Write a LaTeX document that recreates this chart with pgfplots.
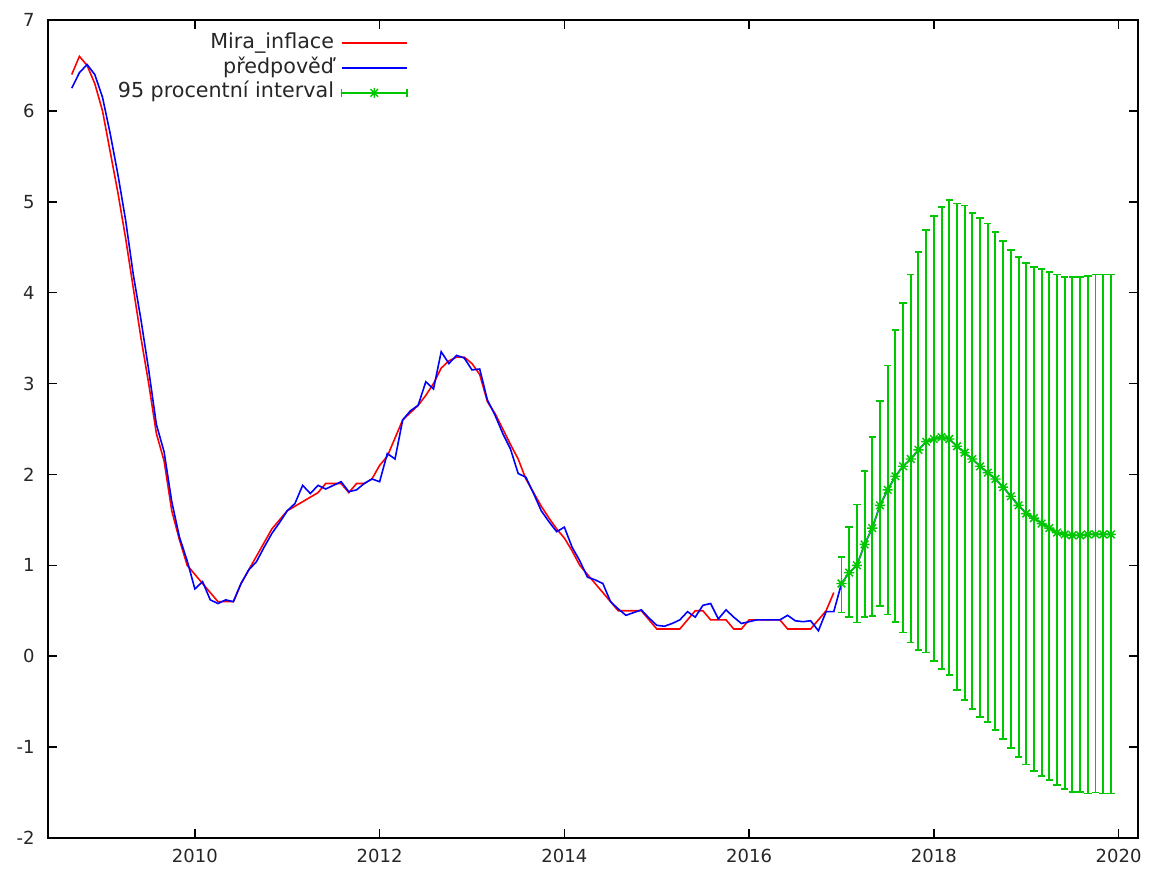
\documentclass[border=0pt]{standalone}
\usepackage{fontspec}
\setmainfont{DejaVu Sans}
\usepackage{pgfplots}
\usepackage{pgfplotstable}
\pgfplotsset{compat=1.18}
\definecolor{gred}{RGB}{255,0,0}
\definecolor{gblue}{RGB}{0,0,255}
\definecolor{ggreen}{RGB}{0,200,0}
\pgfdeclareplotmark{gstar}{%
  \pgfpathmoveto{\pgfqpoint{-\pgfplotmarksize}{0pt}}\pgfpathlineto{\pgfqpoint{\pgfplotmarksize}{0pt}}%
  \pgfpathmoveto{\pgfqpoint{0pt}{-\pgfplotmarksize}}\pgfpathlineto{\pgfqpoint{0pt}{\pgfplotmarksize}}%
  \pgfpathmoveto{\pgfqpoint{-.75\pgfplotmarksize}{-.75\pgfplotmarksize}}\pgfpathlineto{\pgfqpoint{.75\pgfplotmarksize}{.75\pgfplotmarksize}}%
  \pgfpathmoveto{\pgfqpoint{-.75\pgfplotmarksize}{.75\pgfplotmarksize}}\pgfpathlineto{\pgfqpoint{.75\pgfplotmarksize}{-.75\pgfplotmarksize}}%
  \pgfusepathqstroke}

% k = months since Sep 2008
\pgfplotstableread{
k v
0 6.4
1 6.6
2 6.5
3 6.3
4 6.0
5 5.55
6 5.1
7 4.6
8 4.05
9 3.5
10 3.0
11 2.45
12 2.15
13 1.6
14 1.28
15 1.0
16 0.9
17 0.8
18 0.7
19 0.6
20 0.6
21 0.6
22 0.8
23 0.95
24 1.1
25 1.25
26 1.4
27 1.5
28 1.6
29 1.65
30 1.7
31 1.75
32 1.8
33 1.9
34 1.9
35 1.9
36 1.8
37 1.9
38 1.9
39 1.95
40 2.1
41 2.2
42 2.4
43 2.6
44 2.68
45 2.76
46 2.87
47 3.0
48 3.17
49 3.25
50 3.29
51 3.29
52 3.22
53 3.1
54 2.8
55 2.67
56 2.5
57 2.33
58 2.17
59 1.95
60 1.8
61 1.65
62 1.52
63 1.4
64 1.3
65 1.16
66 1.0
67 0.9
68 0.8
69 0.7
70 0.6
71 0.5
72 0.5
73 0.5
74 0.5
75 0.4
76 0.3
77 0.3
78 0.3
79 0.3
80 0.4
81 0.5
82 0.5
83 0.4
84 0.4
85 0.4
86 0.3
87 0.3
88 0.4
89 0.4
90 0.4
91 0.4
92 0.4
93 0.3
94 0.3
95 0.3
96 0.3
97 0.4
98 0.5
99 0.7
}\redtab

\pgfplotstableread{
k v
0 6.25
1 6.42
2 6.51
3 6.4
4 6.15
5 5.75
6 5.3
7 4.8
8 4.2
9 3.7
10 3.15
11 2.55
12 2.25
13 1.7
14 1.31
15 1.05
16 0.74
17 0.82
18 0.62
19 0.58
20 0.62
21 0.6
22 0.8
23 0.95
24 1.04
25 1.2
26 1.35
27 1.47
28 1.6
29 1.68
30 1.88
31 1.79
32 1.88
33 1.84
34 1.88
35 1.92
36 1.81
37 1.83
38 1.9
39 1.95
40 1.92
41 2.23
42 2.17
43 2.6
44 2.7
45 2.76
46 3.02
47 2.94
48 3.35
49 3.22
50 3.31
51 3.28
52 3.15
53 3.16
54 2.82
55 2.65
56 2.45
57 2.28
58 2.01
59 1.97
60 1.79
61 1.6
62 1.48
63 1.37
64 1.42
65 1.2
66 1.05
67 0.87
68 0.84
69 0.8
70 0.6
71 0.52
72 0.45
73 0.48
74 0.51
75 0.42
76 0.34
77 0.33
78 0.36
79 0.4
80 0.49
81 0.43
82 0.56
83 0.58
84 0.41
85 0.51
86 0.43
87 0.36
88 0.38
89 0.4
90 0.4
91 0.4
92 0.4
93 0.45
94 0.39
95 0.38
96 0.39
97 0.28
98 0.49
99 0.49
100 0.8
}\bluetab

\pgfplotstableread{
k v hi lo
100 0.80 1.09 0.48
101 0.92 1.42 0.43
102 1.00 1.67 0.37
103 1.23 2.04 0.43
104 1.41 2.41 0.44
105 1.66 2.81 0.55
106 1.83 3.20 0.46
107 1.98 3.59 0.38
108 2.09 3.89 0.26
109 2.17 4.20 0.15
110 2.27 4.45 0.07
111 2.36 4.69 0.04
112 2.39 4.84 -0.05
113 2.41 4.94 -0.14
114 2.39 5.02 -0.21
115 2.31 4.98 -0.37
116 2.24 4.96 -0.48
117 2.17 4.88 -0.58
118 2.09 4.82 -0.67
119 2.02 4.76 -0.72
120 1.95 4.67 -0.81
121 1.86 4.57 -0.91
122 1.76 4.47 -1.01
123 1.66 4.39 -1.11
124 1.57 4.33 -1.19
125 1.52 4.28 -1.26
126 1.46 4.26 -1.32
127 1.41 4.23 -1.36
128 1.36 4.20 -1.42
129 1.34 4.17 -1.46
130 1.33 4.17 -1.49
131 1.33 4.17 -1.49
132 1.34 4.18 -1.51
133 1.34 4.20 -1.50
134 1.34 4.20 -1.51
135 1.34 4.20 -1.51
}\fctab

\begin{document}
\begin{tikzpicture}
\begin{axis}[
  scale only axis, width=817.5bp, height=613.5bp,
  xmin=2008.41, xmax=2020.21, ymin=-2, ymax=7,
  xtick={2010,2012,2014,2016,2018,2020},
  xticklabels={2010,2012,2014,2016,2018,2020},
  ytick={-2,-1,0,1,2,3,4,5,6,7},
  yticklabels={-2,-1,0,1,2,3,4,5,6,7},
  tick align=inside, major tick length=6.75bp,
  axis line style={line width=1.1bp, black},
  every tick/.style={line width=1.1bp, black},
  ticklabel style={font=\fontsize{13.5bp}{16bp}\selectfont, text=black!85},
  xticklabel style={yshift=-5bp},
  yticklabel style={xshift=-6.5bp},
  legend plot pos=right,
  legend cell align=right,
  legend style={at={(0.3303,0.9866)}, anchor=north east, draw=none, fill=none,
    inner sep=0pt, font=\fontsize{15.5bp}{18bp}\selectfont, row sep=0bp,
    nodes={inner xsep=5bp, inner ysep=2bp, text height=11bp, text depth=3.5bp, text=black!85}},
]
\addplot[gred, line width=1.2bp, mark=none,
  legend image code/.code={\draw[gred, line width=1.3bp] (0bp,0.2bp) -- (49bp,0.2bp);}]
  table[x expr={2008+(8+\thisrow{k})/12}, y=v] {\redtab};
\addlegendentry{Mira\_inflace}
\addplot[gblue, line width=1.2bp, mark=none,
  legend image code/.code={\draw[gblue, line width=1.3bp] (0bp,0.2bp) -- (49bp,0.2bp);}]
  table[x expr={2008+(8+\thisrow{k})/12}, y=v] {\bluetab};
\addlegendentry{předpověď}
\addplot[gblue, line width=1.2bp, mark=none, forget plot]
  table[x expr={2008+(8+\thisrow{k})/12}, y=v] {\fctab};
\addplot[ggreen, line width=1.1bp, mark=gstar, mark size=3.8bp,
  legend image code/.code={%
    \draw[ggreen, line width=1.3bp] (0bp,0bp) -- (49bp,0bp) (0bp,-3bp) -- (0bp,3bp) (49bp,-3bp) -- (49bp,3bp);
    \draw[ggreen, line width=1.1bp] plot[mark=gstar, mark size=3.8bp, only marks] coordinates {(24.5bp,0bp)};},
  error bars/.cd, y dir=both, y explicit,
  error bar style={line width=1.45bp, ggreen},
  error mark options={rotate=90, line width=1.3bp, mark size=2.8bp, ggreen}]
  table[x expr={2008+(8+\thisrow{k})/12}, y=v,
        y error plus expr={\thisrow{hi}-\thisrow{v}},
        y error minus expr={\thisrow{v}-\thisrow{lo}}] {\fctab};
\addlegendentry{95 procentní interval}
\end{axis}
\path ([shift={(-36bp,-27.75bp)}]current axis.south west) rectangle ([shift={(9bp,15bp)}]current axis.north east);
\end{tikzpicture}
\end{document}
